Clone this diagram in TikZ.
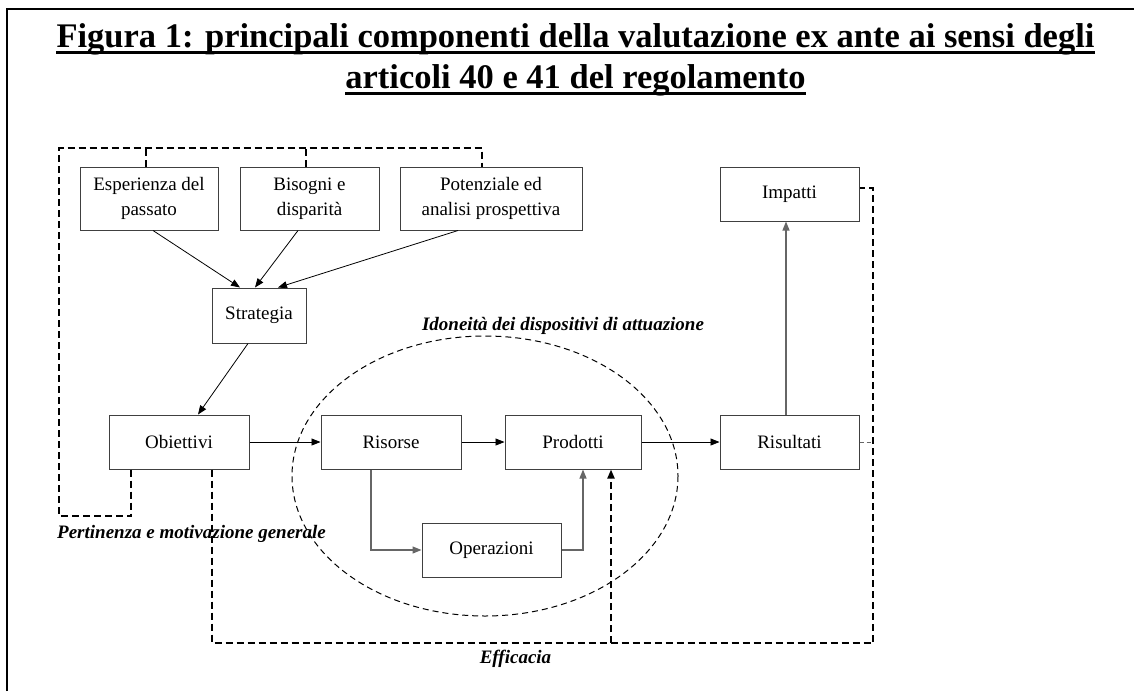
\documentclass[tikz,border=0pt]{standalone}
\usepackage{fontspec}
\setmainfont{Liberation Serif}
\usetikzlibrary{arrows.meta}
\begin{document}
\begin{tikzpicture}[x=1pt,y=-1pt,
  box/.style={draw=black!75,line width=1pt,inner sep=0pt,align=center,font=\fontsize{19}{25}\selectfont},
  arr/.style={draw=black,line width=0.8pt,-{Triangle[length=9pt,width=7pt]}},
  garr/.style={draw=black!60,line width=1.2pt,-{Triangle[length=9pt,width=7pt]}},
  gline/.style={draw=black!60,line width=1.2pt},
  thickdash/.style={draw=black,line width=2pt,dash pattern=on 7pt off 4pt},
  thindash/.style={draw=black,line width=1pt,dash pattern=on 6pt off 4pt},
  lab/.style={font=\fontsize{19}{23}\selectfont\bfseries\itshape,inner sep=0pt},
  ttl/.style={font=\fontsize{34.5}{40}\selectfont\bfseries,inner sep=0pt}
]
\useasboundingbox (0,0) rectangle (1134,691);
% frame
\draw[line width=2pt] (7,691) -- (7,9) -- (1134,9);
% title
\node[ttl,anchor=base] (t1) at (575.5,47) {Figura 1: principali componenti della valutazione ex ante ai sensi degli};
\node[ttl,anchor=base] (t2) at (575.5,88) {articoli 40 e 41 del regolamento};
\draw[line width=3pt] ([yshift=-5pt]t1.base west) -- ([yshift=-5pt]t1.base east);
\draw[line width=3pt] ([yshift=-5pt]t2.base west) -- ([yshift=-5pt]t2.base east);
% boxes
\node[box,minimum width=138pt,minimum height=63pt] (esp) at (149,198.5) {Esperienza del\\passato};
\node[box,minimum width=139pt,minimum height=63pt] (bis) at (309.5,198.5) {Bisogni e\\disparità};
\node[box,minimum width=182pt,minimum height=63pt] (pot) at (491,198.5) {Potenziale ed\\analisi prospettiva};
\node[box,minimum width=139pt,minimum height=54pt] (imp) at (789.5,194) {Impatti};
\node[box,minimum width=94pt,minimum height=55pt] (str) at (259,315.5) {Strategia};
\node[box,minimum width=140pt,minimum height=54pt] (obi) at (179,442) {Obiettivi};
\node[box,minimum width=140pt,minimum height=54pt] (ris) at (391,442) {Risorse};
\node[box,minimum width=136pt,minimum height=54pt] (pro) at (573,442) {Prodotti};
\node[box,minimum width=139pt,minimum height=54pt] (rsl) at (789.5,442) {Risultati};
\node[box,minimum width=139pt,minimum height=54pt] (ope) at (491.5,550) {Operazioni};
% ellipse
\draw[thindash] (485,476) ellipse [x radius=193, y radius=140];
% labels
\node[lab,anchor=base] (lid) at (563,330) {Idoneità dei dispositivi di attuazione};
\node[lab,anchor=base west] (lpe) at (57,538) {Pertinenza e motivazione generale};
\node[lab,anchor=base] (lef) at (515.5,663) {Efficacia};
% solid connectors
\draw[arr] ([xshift=4pt]esp.south) -- ([xshift=-19pt]str.north);
\draw[arr] ([xshift=-11.5pt]bis.south) -- ([xshift=-4pt]str.north);
\draw[arr] ([xshift=-33pt]pot.south) -- ([xshift=19pt]str.north);
\draw[arr] ([xshift=-11pt]str.south) -- ([xshift=19pt]obi.north);
\draw[arr] (obi.east) -- (ris.west);
\draw[arr] (ris.east) -- (pro.west);
\draw[arr] (pro.east) -- (rsl.west);
\draw[garr] ([xshift=-3.5pt]rsl.north) -- ([xshift=-3.5pt]imp.south);
\draw[garr] ([xshift=-20pt]ris.south) |- (ope.west);
\draw[garr] (ope.east) -| ([xshift=10pt]pro.south);
% Pertinenza loop
\coordinate (pA) at (131,516);
\coordinate (pB) at (59,516);
\coordinate (pC) at (59,148);
\coordinate (pD) at (482,148);
\draw[thickdash] ([xshift=-48pt]obi.south) -- (pA) -- (pB) -- (pC) -- (pD) -- ([xshift=-9pt]pot.north);
\draw[thickdash] ([xshift=-3pt]esp.north) -- ([xshift=-3pt]esp.north |- pC);
\draw[thickdash] ([xshift=-3.5pt]bis.north) -- ([xshift=-3.5pt]bis.north |- pC);
% Efficacia loop
\coordinate (eL) at (212,643);
\coordinate (eM) at (611,643);
\coordinate (eR) at (873,643);
\coordinate (eT) at (873,188);
\draw[thickdash] ([xshift=33pt]obi.south) -- (eL) -- (eR) -- (eT) -- ([yshift=6pt]imp.east);
\draw[thickdash,-{Triangle[length=9pt,width=7pt]}] (eM) -- ([xshift=38pt]pro.south);
\draw[draw=black!60,line width=1pt,dash pattern=on 4pt off 3pt] (rsl.east) -- (rsl.east -| eR);
\end{tikzpicture}
\end{document}
